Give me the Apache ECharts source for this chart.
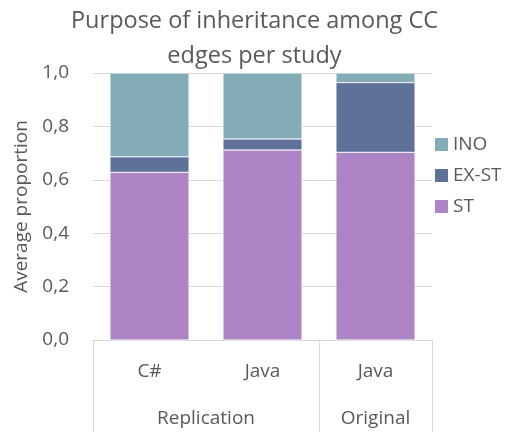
<!DOCTYPE html>
<html>
<head>
<meta charset="utf-8">
<script src="https://cdn.jsdelivr.net/npm/echarts@6/dist/echarts.min.js"></script>
<style>
  html, body { margin: 0; padding: 0; background: #fff; }
  #chart { width: 509px; height: 432px; }
</style>
</head>
<body>
<div id="chart"></div>
<script>
const categories = ["C#", "Java", "Java"];
const groups = ["Replication", "Original"];
const groupCenters = [1, 2.5];
const groupEdges = [0, 2, 3];
const stValues = [0.628, 0.712, 0.703];
const exStValues = [0.058, 0.041, 0.261];
const inoValues = [0.314, 0.247, 0.036];

const myChart = echarts.init(document.getElementById("chart"));
const font = "Open Sans";
const textColor = "#595959";
const lineColor = "#d9d9d9";

const barSeries = (name, values, color) => ({
    name: name,
    type: "bar",
    stack: "total",
    data: values,
    barCategoryGap: "30%",
    itemStyle: { color: color, borderColor: "#fff", borderWidth: 0.5 },
});

let option = {
    animation: false,
    textStyle: { fontFamily: font },
    title: {
        text: "Purpose of inheritance among CC\nedges per study",
        left: "center",
        top: 4,
        padding: [0, 0, 0, 17],
        textStyle: {
            fontFamily: font,
            fontSize: 23.5,
            fontWeight: "normal",
            color: textColor,
            lineHeight: 35,
        },
    },
    legend: {
        orient: "vertical",
        left: 430,
        top: 130,
        itemWidth: 13,
        itemHeight: 13,
        itemGap: 12,
        itemStyle: { borderWidth: 0 },
        icon: "rect",
        data: ["INO", "EX-ST", "ST"],
        textStyle: { fontFamily: font, fontSize: 19, color: textColor },
    },
    grid: {
        left: 93,
        right: 77,
        top: 73,
        bottom: 92,
        containLabel: false,
    },
    xAxis: [
        {
            type: "category",
            data: categories,
            axisLine: { show: true, lineStyle: { color: lineColor } },
            axisTick: { show: false },
            axisLabel: {
                fontFamily: font,
                fontSize: 19,
                color: textColor,
                margin: 22,
            },
        },
        {
            type: "value",
            position: "bottom",
            min: 0,
            max: 3,
            axisLine: { show: false },
            splitLine: { show: false },
            axisTick: {
                show: true,
                customValues: groupEdges,
                length: 92,
                lineStyle: { color: lineColor },
            },
            axisLabel: {
                customValues: groupCenters,
                formatter: (v) => groups[groupCenters.indexOf(v)] || "",
                fontFamily: font,
                fontSize: 19,
                color: textColor,
                margin: 69,
            },
        },
    ],
    yAxis: {
        type: "value",
        min: 0,
        max: 1,
        interval: 0.2,
        name: "Average proportion",
        nameLocation: "middle",
        nameGap: 61,
        nameTextStyle: { fontFamily: font, fontSize: 19, color: textColor },
        axisLine: { show: false },
        axisTick: { show: false },
        axisLabel: {
            fontFamily: font,
            fontSize: 19,
            color: textColor,
            margin: 24,
            formatter: (v) => v.toFixed(1).replace(".", ","),
        },
        splitLine: { lineStyle: { color: lineColor } },
    },
    series: [
        barSeries("ST", stValues, "#ad84c6"),
        barSeries("EX-ST", exStValues, "#5e7199"),
        barSeries("INO", inoValues, "#84acb6"),
    ],
};
myChart.setOption(option);
</script>
</body>
</html>
